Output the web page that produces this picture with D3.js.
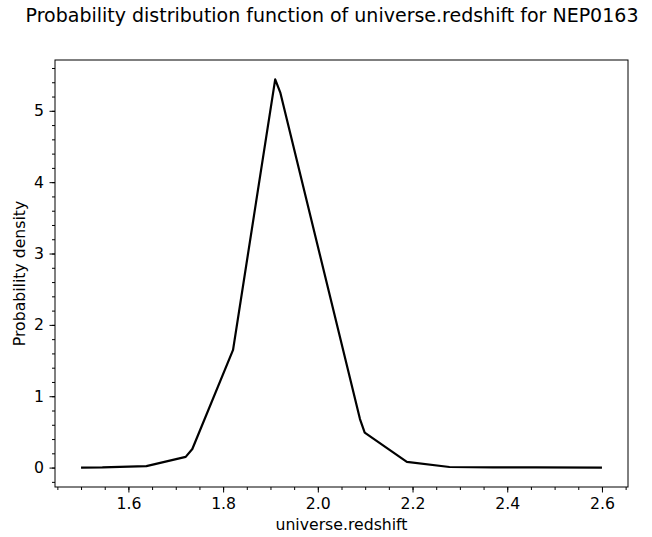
<!DOCTYPE html>
<html lang="en">
<head>
  <meta charset="UTF-8" />
  <title>PDF universe.redshift NEP0163</title>
  <script src="https://d3js.org/d3.v7.min.js"></script>
  <style>
    body {
      margin: 0;
      background: #fff;
    }
    text {
      font-family: "DejaVu Sans", sans-serif;
      fill: #000;
    }
    .axis path, .axis line {
      stroke: #000;
      stroke-width: 1px;
    }
  </style>
</head>
<body>
  <svg width="652" height="537"></svg>

  <script>
    const width = 652;
    const height = 537;

    // redshift grid and probability density
    const redshift = [1.5, 1.545, 1.638, 1.721, 1.735, 1.821, 1.910, 1.921, 2.089, 2.099, 2.188, 2.278, 2.37, 2.46, 2.6];
    const density = [0, 0.002, 0.02, 0.15, 0.26, 1.65, 5.44, 5.25, 0.68, 0.49, 0.08, 0.008, 0.004, 0.002, 0.0];

    const xTicks = [1.6, 1.8, 2.0, 2.2, 2.4, 2.6];
    const yTicks = [0, 1, 2, 3, 4, 5];

    const margin = { left: 55, right: 24, top: 60, bottom: 50 };
    const labelSize = "15.7px";

    const svg = d3.select("svg");

    const xPad = (d3.max(redshift) - d3.min(redshift)) * 0.05;
    const yPad = (d3.max(density) - d3.min(density)) * 0.05;

    const x = d3.scaleLinear()
      .domain([d3.min(redshift) - xPad, d3.max(redshift) + xPad])
      .range([margin.left, width - margin.right]);

    const y = d3.scaleLinear()
      .domain([d3.min(density) - yPad, d3.max(density) + yPad])
      .range([height - margin.bottom, margin.top]);

    const x0 = x.range()[0], x1 = x.range()[1];
    const y0 = y.range()[0], y1 = y.range()[1];

    // minor ticks
    const xMinor = d3.range(1.45, 2.66, 0.05).filter(v => v >= x.domain()[0] && v <= x.domain()[1]);
    const yMinor = d3.range(-0.2, 5.71, 0.2).filter(v => v >= y.domain()[0] && v <= y.domain()[1]);

    svg.append("g")
      .attr("class", "axis")
      .attr("transform", `translate(0,${y0})`)
      .call(d3.axisBottom(x).tickValues(xMinor).tickSize(3).tickFormat(""))
      .call(g => g.select(".domain").remove());

    svg.append("g")
      .attr("class", "axis")
      .attr("transform", `translate(${x0},0)`)
      .call(d3.axisLeft(y).tickValues(yMinor).tickSize(3).tickFormat(""))
      .call(g => g.select(".domain").remove());

    svg.append("g")
      .attr("class", "axis")
      .attr("transform", `translate(0,${y0})`)
      .call(d3.axisBottom(x).tickValues(xTicks).tickSize(5.5).tickPadding(5.5).tickFormat(d3.format(".1f")))
      .call(g => g.select(".domain").remove())
      .selectAll("text")
      .style("font-size", labelSize);

    svg.append("g")
      .attr("class", "axis")
      .attr("transform", `translate(${x0},0)`)
      .call(d3.axisLeft(y).tickValues(yTicks).tickSize(5.5).tickPadding(5.5).tickFormat(d3.format("d")))
      .call(g => g.select(".domain").remove())
      .selectAll("text")
      .style("font-size", labelSize);

    // frame
    svg.append("rect")
      .attr("x", x0)
      .attr("y", y1)
      .attr("width", x1 - x0)
      .attr("height", y0 - y1)
      .attr("fill", "none")
      .attr("stroke", "#000")
      .attr("stroke-width", 1);

    const line = d3.line()
      .x((d, i) => x(redshift[i]))
      .y(d => y(d));

    svg.append("path")
      .datum(density)
      .attr("d", line)
      .attr("fill", "none")
      .attr("stroke", "#000")
      .attr("stroke-width", 2.2)
      .attr("stroke-linejoin", "round");

    svg.append("text")
      .attr("x", 332)
      .attr("y", 22)
      .attr("text-anchor", "middle")
      .style("font-size", "19px")
      .text("Probability distribution function of universe.redshift for NEP0163");

    svg.append("text")
      .attr("x", (x0 + x1) / 2)
      .attr("y", 530)
      .attr("text-anchor", "middle")
      .style("font-size", labelSize)
      .text("universe.redshift");

    svg.append("text")
      .attr("transform", `translate(25,${(y0 + y1) / 2}) rotate(-90)`)
      .attr("text-anchor", "middle")
      .style("font-size", labelSize)
      .text("Probability density");
  </script>
</body>
</html>
